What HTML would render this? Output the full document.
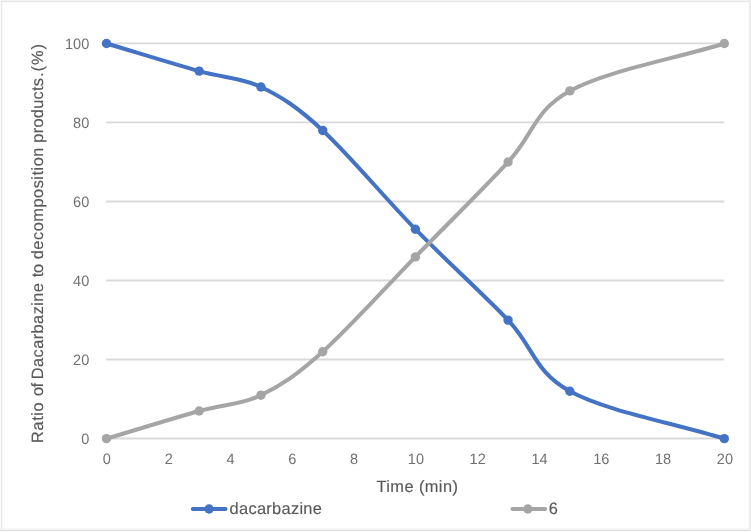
<!DOCTYPE html>
<html lang="en"><head><meta charset="utf-8"><title>Dacarbazine decomposition chart</title>
<style>
html,body{margin:0;padding:0;background:#fff;}
body{width:751px;height:532px;overflow:hidden;}
svg{display:block;}
text{font-family:"Liberation Sans",Arial,Helvetica,sans-serif;fill:#595959;text-rendering:geometricPrecision;}
.tick{font-size:15.0px;fill:#707070;}
.ttl{font-size:16.4px;stroke:#595959;stroke-width:0.15px;}
</style></head><body>
<svg width="751" height="532" viewBox="0 0 751 532">
<rect x="0" y="0" width="751" height="532" fill="#ffffff"/>

<rect x="0" y="0" width="751" height="1" fill="#f3f3f3"/>
<rect x="0" y="0" width="1" height="532" fill="#fafafa"/>
<rect x="1" y="1" width="749" height="1" fill="#e6e6e6"/>
<rect x="1" y="1" width="1" height="530" fill="#e6e6e6"/>
<rect x="2" y="2" width="747" height="1" fill="#fbfbfb"/>
<rect x="2" y="2" width="1" height="527" fill="#fafafa"/>
<rect x="2" y="528" width="747" height="1" fill="#f9f9f9"/>
<rect x="749" y="0" width="2" height="532" fill="#ebebeb"/>
<rect x="0" y="529" width="751" height="1" fill="#efefef"/>
<rect x="0" y="530" width="751" height="1" fill="#e2e2e2"/>
<rect x="0" y="531" width="751" height="1" fill="#f8f8f8"/>
<line x1="106.2" y1="438.50" x2="724.2" y2="438.50" stroke="#d9d9d9" stroke-width="1.9"/>
<line x1="106.2" y1="359.48" x2="724.2" y2="359.48" stroke="#d9d9d9" stroke-width="1.9"/>
<line x1="106.2" y1="280.46" x2="724.2" y2="280.46" stroke="#d9d9d9" stroke-width="1.9"/>
<line x1="106.2" y1="201.44" x2="724.2" y2="201.44" stroke="#d9d9d9" stroke-width="1.9"/>
<line x1="106.2" y1="122.42" x2="724.2" y2="122.42" stroke="#d9d9d9" stroke-width="1.9"/>
<line x1="106.2" y1="43.40" x2="724.2" y2="43.40" stroke="#d9d9d9" stroke-width="1.9"/>
<text class="tick" transform="translate(89.3 443.80) scale(0.970 1)" text-anchor="end">0</text>
<text class="tick" transform="translate(89.3 364.78) scale(0.970 1)" text-anchor="end">20</text>
<text class="tick" transform="translate(89.3 285.76) scale(0.970 1)" text-anchor="end">40</text>
<text class="tick" transform="translate(89.3 206.74) scale(0.970 1)" text-anchor="end">60</text>
<text class="tick" transform="translate(89.3 127.72) scale(0.970 1)" text-anchor="end">80</text>
<text class="tick" transform="translate(89.3 48.70) scale(0.970 1)" text-anchor="end">100</text>
<text class="tick" transform="translate(106.90 464.0) scale(0.970 1)" text-anchor="middle">0</text>
<text class="tick" transform="translate(168.70 464.0) scale(0.970 1)" text-anchor="middle">2</text>
<text class="tick" transform="translate(230.50 464.0) scale(0.970 1)" text-anchor="middle">4</text>
<text class="tick" transform="translate(292.30 464.0) scale(0.970 1)" text-anchor="middle">6</text>
<text class="tick" transform="translate(354.10 464.0) scale(0.970 1)" text-anchor="middle">8</text>
<text class="tick" transform="translate(415.90 464.0) scale(0.970 1)" text-anchor="middle">10</text>
<text class="tick" transform="translate(477.70 464.0) scale(0.970 1)" text-anchor="middle">12</text>
<text class="tick" transform="translate(539.50 464.0) scale(0.970 1)" text-anchor="middle">14</text>
<text class="tick" transform="translate(601.30 464.0) scale(0.970 1)" text-anchor="middle">16</text>
<text class="tick" transform="translate(663.10 464.0) scale(0.970 1)" text-anchor="middle">18</text>
<text class="tick" transform="translate(724.90 464.0) scale(0.970 1)" text-anchor="middle">20</text>
<text class="ttl" x="417.2" y="491.8" text-anchor="middle" textLength="81.5" lengthAdjust="spacing">Time (min)</text>
<g transform="translate(43.4 243.4) rotate(-90)">
<text class="ttl" x="-199.5" y="0" style="letter-spacing:0.57px">Ratio</text>
<text class="ttl" x="-152.7" y="0" style="letter-spacing:-0.50px">of</text>
<text class="ttl" x="-135.8" y="0" style="letter-spacing:0.41px">Dacarbazine</text>
<text class="ttl" x="-33.9" y="0" style="letter-spacing:-0.20px">to</text>
<text class="ttl" x="-15.9" y="0" style="letter-spacing:0.50px">decomposition</text>
<text class="ttl" x="100.7" y="0" style="letter-spacing:0.26px">products</text>
<text class="ttl" x="166.4" y="0" style="letter-spacing:1.00px">.(%)</text>
</g>
<path d="M106.50 43.50 C137.39 52.72 173.43 63.92 199.17 71.16 C224.91 78.40 240.36 77.09 260.95 86.97 C281.54 96.85 296.99 106.72 322.73 130.43 C348.47 154.14 384.51 197.61 415.40 229.22 C446.29 260.83 482.33 293.10 508.07 320.10 C533.81 347.11 533.81 371.47 569.85 391.23 C605.89 410.99 672.82 422.84 724.30 438.65" fill="none" stroke="#4472c4" stroke-width="4.0" stroke-linecap="round" stroke-linejoin="round"/>
<circle cx="106.50" cy="43.50" r="4.7" fill="#4472c4"/>
<circle cx="199.17" cy="71.16" r="4.7" fill="#4472c4"/>
<circle cx="260.95" cy="86.97" r="4.7" fill="#4472c4"/>
<circle cx="322.73" cy="130.43" r="4.7" fill="#4472c4"/>
<circle cx="415.40" cy="229.22" r="4.7" fill="#4472c4"/>
<circle cx="508.07" cy="320.10" r="4.7" fill="#4472c4"/>
<circle cx="569.85" cy="391.23" r="4.7" fill="#4472c4"/>
<circle cx="724.30" cy="438.65" r="4.7" fill="#4472c4"/>
<path d="M106.50 438.65 C137.39 429.43 173.43 418.23 199.17 410.99 C224.91 403.75 240.36 405.06 260.95 395.18 C281.54 385.30 296.99 374.77 322.73 351.72 C348.47 328.67 384.51 288.49 415.40 256.88 C446.29 225.27 482.33 189.71 508.07 162.04 C533.81 134.38 533.81 110.68 569.85 90.92 C605.89 71.16 672.82 59.31 724.30 43.50" fill="none" stroke="#a5a5a5" stroke-width="4.0" stroke-linecap="round" stroke-linejoin="round"/>
<circle cx="106.50" cy="438.65" r="4.7" fill="#a5a5a5"/>
<circle cx="199.17" cy="410.99" r="4.7" fill="#a5a5a5"/>
<circle cx="260.95" cy="395.18" r="4.7" fill="#a5a5a5"/>
<circle cx="322.73" cy="351.72" r="4.7" fill="#a5a5a5"/>
<circle cx="415.40" cy="256.88" r="4.7" fill="#a5a5a5"/>
<circle cx="508.07" cy="162.04" r="4.7" fill="#a5a5a5"/>
<circle cx="569.85" cy="90.92" r="4.7" fill="#a5a5a5"/>
<circle cx="724.30" cy="43.50" r="4.7" fill="#a5a5a5"/>
<line x1="192.8" y1="509.1" x2="225.5" y2="509.1" stroke="#4472c4" stroke-width="4" stroke-linecap="round"/>
<circle cx="209.1" cy="509.0" r="4.7" fill="#4472c4"/>
<text class="ttl" x="229.6" y="514.3" textLength="92.3" lengthAdjust="spacing">dacarbazine</text>
<line x1="512.5" y1="509.1" x2="545.1" y2="509.1" stroke="#a5a5a5" stroke-width="4" stroke-linecap="round"/>
<circle cx="527.9" cy="509.0" r="4.7" fill="#a5a5a5"/>
<text class="ttl" x="548.8" y="514.3">6</text>
</svg></body></html>
